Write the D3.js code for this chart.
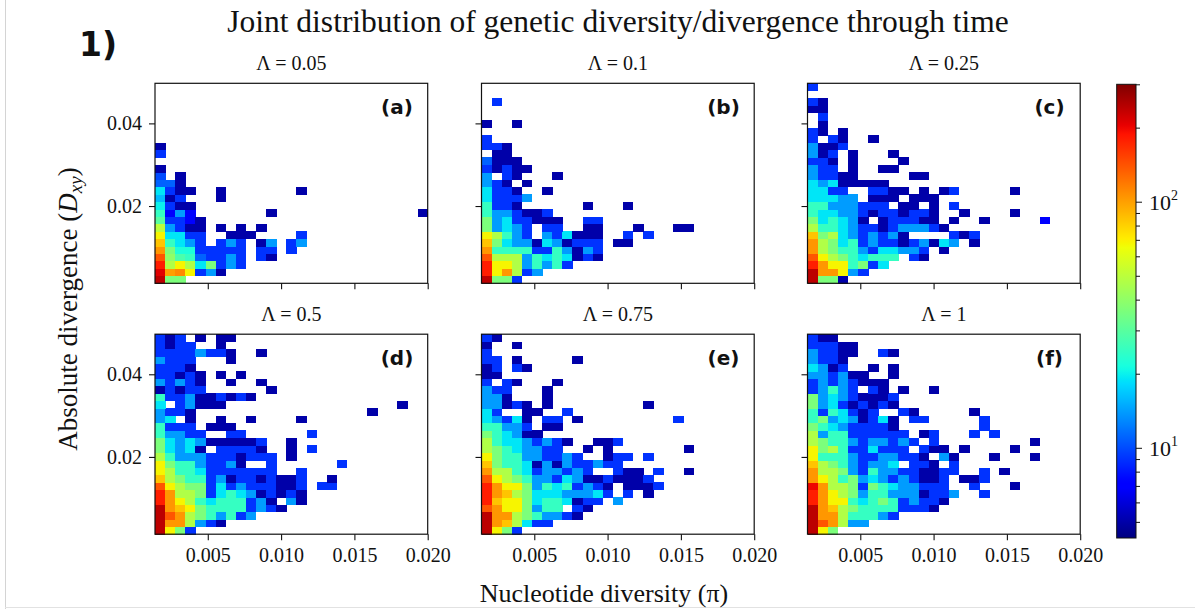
<!DOCTYPE html>
<html>
<head>
<meta charset="utf-8">
<script src="https://cdn.jsdelivr.net/npm/d3@7/dist/d3.min.js"></script>
<style>
  html, body { margin: 0; padding: 0; background: #fff; }
  svg { display: block; }
  .serif { font-family: "Liberation Serif", "DejaVu Serif", serif; fill: #111; }
  .tag { font-family: "DejaVu Sans", sans-serif; font-weight: bold; fill: #111; }
</style>
</head>
<body>
<svg id="fig" width="1195" height="609"></svg>
<script>
// ---- axis settings ----
const xTicks = [0.005, 0.010, 0.015, 0.020];
const yTicks = [0.02, 0.04];
const xRange = [0.0014, 0.020];   // nucleotide diversity (pi)
const yRange = [0.0013, 0.0497];  // absolute divergence (Dxy)
const nBinsX = 27;
const nBinsY = 27;
const lambdaValues = ["0.05", "0.1", "0.25", "0.5", "0.75", "1"];
const panelTags = ["(a)", "(b)", "(c)", "(d)", "(e)", "(f)"];
const colorDomain = [4.3, 300];
const colorMajorTicks = [10, 100];
const colorMinorTicks = [5, 6, 7, 8, 9, 20, 30, 40, 50, 60, 70, 80, 90, 200, 300];

// ---- 2D histogram counts: one array per row of bins (lowest Dxy first), columns by pi bin ----
const countsA = [
  [240,36,36],
  [210,100,110,68,9,14,5],
  [180,47,68,47,19,36,9,14,9],
  [140,40,28,25,11,9,9,14,9,0,9,5],
  [104,36,22,22,9,9,9,9,9,0,9,9,0,9],
  [85,25,19,14,9,0,9,14,9,0,5,14,0,9,14],
  [68,19,19,9,9,0,0,5,5,5,0,0,0,0,9],
  [50,14,9,5,5,0,5,0,5,0,5],
  [30,9,9,7,5],
  [25,7,14,7,0,0,0,0,0,0,0,5,0,0,0,0,0,0,0,0,0,0,0,0,0,0,5],
  [20,9,5,5],
  [16,5,9,0,0,0,5],
  [19,9,5,5,0,0,5,0,0,0,0,0,0,0,5],
  [11,11,5],
  [10,0,5],
  [5],
  [],
  [9],
  [5]
];
const countsB = [
  [240,36,36,9],
  [180,68,104,47,9,14],
  [180,68,68,47,14,25,14,25,9],
  [140,47,47,47,14,25,19,25,19,5,9,5],
  [104,25,25,25,25,9,9,25,14,5,14,9],
  [85,36,19,14,14,5,19,14,5,9,9,9,0,5,5],
  [68,47,25,14,9,0,14,9,19,5,5,5,0,0,9,0,9],
  [36,14,19,14,9,0,9,9,0,0,5,5,0,0,0,5,0,0,0,5,5],
  [36,14,19,9,9,5,5,5,0,0,9,9],
  [25,14,14,9,5,5,9],
  [25,9,9,5,0,0,0,0,0,0,5,0,0,0,5],
  [19,9,9,9,14],
  [19,9,9,5,0,0,5],
  [14,9,5,0,5],
  [14,0,9,5,0,0,0,5],
  [9,5,9,5,5],
  [11,5,5,5],
  [0,5,5],
  [9,9,5],
  [9],
  [],
  [5,0,0,5],
  [],
  [],
  [0,9]
];
const countsC = [
  [240,36,36,5],
  [240,104,104,68,14,9],
  [180,104,68,68,25,36,9,19],
  [140,68,47,36,25,19,25,25,25,0,9,5],
  [104,47,36,25,25,14,9,19,19,14,14,9,0,5],
  [104,47,36,19,25,9,14,9,9,5,9,14,5,19,14,0,5],
  [85,36,47,19,14,9,14,9,14,5,0,0,0,0,9,5,9],
  [47,25,25,19,14,9,9,5,9,14,14,14,9,5],
  [36,19,25,19,14,5,0,5,9,9,9,5,5,0,5,0,0,5,0,0,0,0,0,7],
  [25,19,19,14,14,9,5,9,9,5,9,9,5,0,0,5,0,0,0,0,5],
  [25,25,14,14,14,9,9,9,0,5,5,0,5,0,9],
  [19,19,19,14,14,0,5,5,5,0,5,5,5],
  [19,19,9,9,0,0,9,9,5,5,0,5,0,5,9,0,0,0,0,0,5],
  [19,14,19,5,5,5,5,5],
  [14,9,9,5,5,0,0,0,0,0,5,5],
  [14,9,9,0,5,0,0,5,5],
  [9,9,5,0,5,0,0,0,0,5],
  [14,5,9,0,5,0,0,0,5],
  [14,5,5,9],
  [9,0,9,5,0,0,5],
  [9,5,0,5],
  [0,5],
  [0,9],
  [5,5],
  [9,5],
  [],
  [9]
];
const countsD = [
  [240,68,36,9],
  [240,104,104,47,14,9,5],
  [240,140,104,47,36,25,14,25,9,14],
  [240,104,85,68,36,25,25,25,25,9,14,9,5],
  [180,104,68,47,25,19,25,25,25,9,14,5,0,14,5],
  [180,104,47,47,36,9,19,25,19,14,5,9,5,9,5],
  [140,68,47,36,36,9,19,9,14,9,9,9,5,5,9,0,9,9],
  [85,47,36,25,25,9,14,5,9,9,5,9,5,5,9,0,0,5],
  [68,47,25,25,19,9,9,9,9,9,9,9,0,0,9],
  [68,36,25,25,14,9,9,14,5,0,0,9,0,0,0,0,0,0,9],
  [47,25,14,14,14,9,9,9,5,9,9,9,0,5],
  [36,19,14,19,5,0,9,9,9,9,5,0,0,5,0,9],
  [36,19,14,19,14,5,5,5,5,5,9,0,0,5],
  [25,14,14,9,9,0,0,9,9,0,0,0,0,0,0,9],
  [25,9,9,9,0,5,5,5],
  [14,19,0,5,0,0,5,0,0,5,0,0,0,0,5],
  [14,9,9,5,0,0,0,0,0,0,0,0,0,0,0,0,0,0,0,0,0,5],
  [19,0,9,14,5,5,5,0,0,0,0,0,0,0,0,0,0,0,0,0,0,0,0,0,5],
  [25,9,9,14,5,5,9,5,9,5],
  [5,9,5,9,9,0,0,0,0,0,0,5],
  [14,9,14,9,5,0,0,5,0,0,5],
  [9,9,5,9,5,0,5,0,5],
  [9,9,9,5],
  [14,9,9,9,0,0,0,5],
  [9,9,9,9,14,9,9,5,0,0,5],
  [9,5,9,9,0,0,5],
  [9,5,9,0,5,0,5,5]
];
const countsE = [
  [240,68,36,9],
  [240,104,85,47,19,9,9],
  [240,104,104,47,36,25,14,14,9,5],
  [140,104,68,68,36,14,25,25,0,9,5],
  [180,85,68,68,36,19,25,25,19,5,9,9,0,14],
  [180,104,85,47,36,19,19,19,14,14,14,19,9,0,9,0,5],
  [180,104,68,68,36,14,25,19,25,9,14,9,5,0,5,5,5,9],
  [140,68,47,36,25,14,14,9,19,14,5,5,9,5,5,5,9],
  [104,47,47,25,19,9,14,14,9,14,9,0,0,9,5,5,0,9,0,0,5],
  [85,36,25,25,19,5,14,5,14,9,9,14,9,9],
  [68,36,25,25,14,14,9,9,14,9,0,0,5,9,9,0,9],
  [47,36,25,19,14,14,9,9,0,0,5,0,5,0,0,0,0,0,0,0,5],
  [47,25,19,19,14,9,14,9,5,0,0,5,5,9],
  [36,25,19,14,5,5],
  [25,25,14,14,9,0,5,5],
  [19,14,9,19,5,0,9,9,0,5,0,0,0,0,0,0,0,0,0,9],
  [19,9,0,0,5,5,0,0,9],
  [14,14,5,9,5,0,5,0,0,0,0,0,0,0,0,0,5],
  [14,14,5,0,0,0,5],
  [14,9,9,0,0,0,5],
  [9,0,9,5,0,0,0,5],
  [5,5],
  [5,9,0,9,5],
  [9,9,0,5,0,0,0,0,0,5],
  [9],
  [5,0,0,5],
  [9,5]
];
const countsF = [
  [240,68,36],
  [240,140,104,47,14,14],
  [240,104,104,47,25,25,25,14,9],
  [240,104,85,47,36,25,25,25,25,9,9,9,5],
  [180,104,68,68,25,19,25,36,25,9,14,9,9,5],
  [180,104,68,47,36,14,25,25,14,14,14,5,9,9,14,0,0,9],
  [200,104,47,47,36,9,36,25,19,14,14,9,9,9,0,0,9,0,0,0,5],
  [104,68,47,25,36,14,19,14,9,14,9,5,5,9,0,5,5,9],
  [104,47,47,36,14,9,25,14,14,9,9,5,5,9,9,0,0,9,0,5],
  [85,47,36,25,14,9,14,14,19,0,9,9,5,0,9],
  [68,25,25,25,14,9,9,14,14,9,9,5,0,14,5,0,0,0,5,0,0,0,5],
  [68,36,47,25,9,9,19,9,9,9,0,9,5,5,0,5,0,0,0,0,5],
  [47,36,25,25,14,9,14,14,9,14,9,0,9,0,0,0,0,0,0,0,0,0,5],
  [47,14,25,25,9,9,9,9,9,9,0,5,9,0,0,0,9,0,9],
  [36,25,19,14,9,9,9,9,5,0,0,0,0,0,0,0,0,9],
  [25,36,14,19,14,5,9,19,5,0,9,9,0,0,0,0,0,9],
  [25,9,25,19,9,5,9,0,0,9,5,0,0,0,0,0,5],
  [36,14,19,9,5,9,5,9,5],
  [36,14,19,14,9,5,5,5,9],
  [9,14,25,14,9,0,9,5,0,5,0,0,5],
  [9,14,9,14,9,5,5,5],
  [14,14,9,14,5,5,0,0,5],
  [19,14,5,9,0,0,5,0,5],
  [14,9,9,5],
  [14,9,9,5,5,0,0,9,5],
  [9,9,9,5,5],
  [9,5,5]
];
const panelCounts = [countsA, countsB, countsC, countsD, countsE, countsF];

// ---- jet colormap ----
const jetR = [[0,0],[0.35,0],[0.66,1],[0.89,1],[1,0.5]];
const jetG = [[0,0],[0.125,0],[0.375,1],[0.64,1],[0.91,0],[1,0]];
const jetB = [[0,0.5],[0.11,1],[0.34,1],[0.65,0],[1,0]];
function seg(pts, t) {
  for (let i = 1; i < pts.length; i++) {
    if (t <= pts[i][0]) {
      const [t0, v0] = pts[i - 1], [t1, v1] = pts[i];
      return v0 + (v1 - v0) * (t - t0) / (t1 - t0);
    }
  }
  return pts[pts.length - 1][1];
}
function jet(t) {
  return d3.rgb(255 * seg(jetR, t), 255 * seg(jetG, t), 255 * seg(jetB, t)).formatHex();
}
const norm = d3.scaleLog().domain(colorDomain).range([0, 1]).clamp(true);
const color = v => jet(norm(v));

// ---- layout ----
const svg = d3.select("#fig");
const W = 1195, H = 609;
const panelW = 272.7, panelH = 200;
const colLeft = [155, 481.5, 807.5];
const rowTop = [83.3, 334.2];
const tickLen = 6;
const serif = "Liberation Serif, DejaVu Serif, serif";

svg.append("rect").attr("width", W).attr("height", H).attr("fill", "#fff");
svg.append("line").attr("x1", 5.5).attr("x2", 5.5).attr("y1", 0).attr("y2", H)
  .attr("stroke", "#d4d4d4").attr("stroke-width", 1);
svg.append("line").attr("x1", 5).attr("x2", W).attr("y1", 607.5).attr("y2", 607.5)
  .attr("stroke", "#e2e2e2").attr("stroke-width", 1);

const xEdges = d3.range(nBinsX + 1).map(i => xRange[0] + i * (xRange[1] - xRange[0]) / nBinsX);
const yEdges = d3.range(nBinsY + 1).map(i => yRange[0] + i * (yRange[1] - yRange[0]) / nBinsY);

panelCounts.forEach((counts, p) => {
  const col = p % 3, row = Math.floor(p / 3);
  const left = colLeft[col], top = rowTop[row];
  const x = d3.scaleLinear().domain(xRange).range([left, left + panelW]);
  const y = d3.scaleLinear().domain(yRange).range([top + panelH, top]);
  const g = svg.append("g");

  const cells = [];
  counts.forEach((rowVals, j) => rowVals.forEach((v, i) => {
    if (v > 0) cells.push({ i, j, v });
  }));
  g.append("g").attr("shape-rendering", "crispEdges")
    .selectAll("rect").data(cells).join("rect")
    .attr("x", d => x(xEdges[d.i]))
    .attr("y", d => y(yEdges[d.j + 1]))
    .attr("width", d => x(xEdges[d.i + 1]) - x(xEdges[d.i]) + 0.4)
    .attr("height", d => y(yEdges[d.j]) - y(yEdges[d.j + 1]) + 0.4)
    .attr("fill", d => color(d.v));

  // frame
  g.append("rect").attr("x", left).attr("y", top).attr("width", panelW).attr("height", panelH)
    .attr("fill", "none").attr("stroke", "#111").attr("stroke-width", 1.2);

  // axes
  const xAxis = d3.axisBottom(x).tickValues(xTicks).tickSize(tickLen).tickSizeOuter(0)
    .tickPadding(8).tickFormat(row === 1 ? d3.format(".3f") : () => "");
  const gx = g.append("g").attr("transform", `translate(0,${top + panelH})`).call(xAxis);
  const yAxis = d3.axisLeft(y).tickValues(yTicks).tickSize(tickLen).tickSizeOuter(0)
    .tickPadding(7).tickFormat(col === 0 ? d3.format(".2f") : () => "");
  const gy = g.append("g").attr("transform", `translate(${left},0)`).call(yAxis);
  [gx, gy].forEach(a => {
    a.select(".domain").remove();
    a.selectAll(".tick line").attr("stroke", "#111").attr("stroke-width", 1.1);
    a.selectAll(".tick text").attr("font-family", serif).attr("font-size", 20).attr("fill", "#111");
  });

  // subplot title
  g.append("text").attr("class", "serif").attr("x", left + panelW / 2).attr("y", top - 13)
    .attr("text-anchor", "middle").attr("font-size", 20)
    .text(`\u039B = ${lambdaValues[p]}`);
  // panel tag
  g.append("text").attr("class", "tag").attr("x", left + 242).attr("y", top + 31)
    .attr("text-anchor", "middle").attr("font-size", 20).text(panelTags[p]);
});

// ---- figure texts ----
svg.append("text").attr("class", "serif").attr("x", 618).attr("y", 32)
  .attr("text-anchor", "middle").attr("font-size", 31.5)
  .text("Joint distribution of genetic diversity/divergence through time");
svg.append("text").attr("class", "tag").attr("x", 79).attr("y", 56)
  .attr("font-size", 33).text("1)");

svg.append("text").attr("class", "serif").attr("x", 604).attr("y", 602)
  .attr("text-anchor", "middle").attr("font-size", 26)
  .text("Nucleotide diversity (\u03C0)");

const yl = svg.append("text").attr("class", "serif")
  .attr("transform", "translate(77,309) rotate(-90)")
  .attr("text-anchor", "middle").attr("font-size", 27);
yl.append("tspan").text("Absolute divergence (");
yl.append("tspan").attr("font-style", "italic").text("D");
yl.append("tspan").attr("font-style", "italic").attr("font-size", 19).attr("dy", 5).text("xy");
yl.append("tspan").attr("dy", -5).text(")");

// ---- colorbar ----
const cbX = 1116.7, cbW = 19.3, cbTop = 84.3, cbBottom = 538;
const cbScale = d3.scaleLog().domain(colorDomain).range([cbBottom, cbTop]);
const defs = svg.append("defs");
const grad = defs.append("linearGradient").attr("id", "jetGrad")
  .attr("x1", 0).attr("y1", 1).attr("x2", 0).attr("y2", 0);
d3.range(0, 1.0001, 0.01).forEach(t => {
  grad.append("stop").attr("offset", t).attr("stop-color", jet(t));
});
svg.append("rect").attr("x", cbX).attr("y", cbTop).attr("width", cbW).attr("height", cbBottom - cbTop)
  .attr("fill", "url(#jetGrad)").attr("stroke", "#111").attr("stroke-width", 1);

const cbMinor = d3.axisRight(cbScale).tickValues(colorMinorTicks).tickSize(4).tickFormat(() => "");
const gMinor = svg.append("g").attr("transform", `translate(${cbX + cbW},0)`).call(cbMinor);
const cbMajor = d3.axisRight(cbScale).tickValues(colorMajorTicks).tickSize(6).tickFormat(() => "");
const gMajor = svg.append("g").attr("transform", `translate(${cbX + cbW},0)`).call(cbMajor);
[gMinor, gMajor].forEach(a => {
  a.select(".domain").remove();
  a.selectAll(".tick line").attr("stroke", "#111").attr("stroke-width", 1);
});
gMajor.selectAll(".tick").each(function (d) {
  const t = d3.select(this).append("text").attr("class", "serif")
    .attr("x", 13).attr("y", 8).attr("font-size", 22).attr("text-anchor", "start");
  t.append("tspan").text("10");
  t.append("tspan").attr("font-size", 14).attr("dy", -10).text(Math.round(Math.log10(d)));
});
</script>
</body>
</html>
